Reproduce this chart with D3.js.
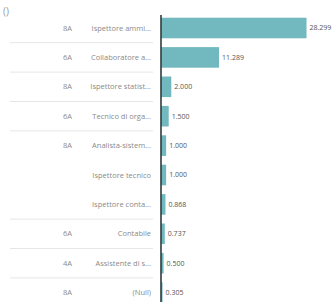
<!DOCTYPE html>
<html lang="en">
  <head>
    <meta charset="UTF-8" />
    <script src="https://d3js.org/d3.v7.min.js"></script>
    <style>
      body { margin: 0; background: #fff; }
      text { font-family: "Open Sans", "Liberation Sans", Arial, sans-serif; }
    </style>
  </head>
  <body>
    <div id="my_dataviz"></div>
    <script>
      // data
      var codes  = ["8A", "6A", "8A", "6A", "8A", "", "", "6A", "4A", "8A"]
      var names  = ["Ispettore ammi...", "Collaboratore a...", "Ispettore statist...", "Tecnico di orga...",
                    "Analista-sistem...", "Ispettore tecnico", "Ispettore conta...", "Contabile",
                    "Assistente di s...", "(Null)"]
      var values = [28.299, 11.289, 2.000, 1.500, 1.000, 1.000, 0.868, 0.737, 0.500, 0.305]
      var valueLabels = ["28.299", "11.289", "2.000", "1.500", "1.000", "1.000", "0.868", "0.737", "0.500", "0.305"]
      // rows after which a group separator is drawn
      var groupEnds = [0, 1, 2, 3, 6, 7, 8]

      var width = 332, height = 302

      var svg = d3.select("#my_dataviz")
        .append("svg")
          .attr("width", width)
          .attr("height", height)

      var idx = d3.range(values.length)

      var y = d3.scaleBand()
        .domain(idx)
        .range([13.3, 307.3])
        .paddingInner(0.3)
        .paddingOuter(0.15)

      var x = d3.scaleLinear()
        .domain([0, d3.max(values)])
        .range([161, 306.5])

      // title stub
      svg.append("text")
        .attr("x", 3).attr("y", 15)
        .style("font-size", "10px")
        .style("fill", "#9a9a9a")
        .text("()")

      // group separators
      svg.selectAll("sep")
        .data(groupEnds)
        .enter()
        .append("line")
          .attr("x1", 10).attr("x2", 153)
          .attr("y1", function(i){ return y(i) + y.bandwidth() / 2 + y.step() / 2 })
          .attr("y2", function(i){ return y(i) + y.bandwidth() / 2 + y.step() / 2 })
          .attr("stroke", "#e6e6e6")
          .attr("stroke-width", 1)

      // bars
      svg.selectAll("bars")
        .data(idx)
        .enter()
        .append("rect")
          .attr("x", x(0))
          .attr("y", function(i){ return y(i) })
          .attr("width", function(i){ return x(values[i]) - x(0) })
          .attr("height", y.bandwidth())
          .attr("fill", "#72b8bf")

      // axis line
      svg.append("line")
        .attr("x1", x(0)).attr("x2", x(0))
        .attr("y1", 15).attr("y2", height)
        .attr("stroke", "#2f3b3d")
        .attr("stroke-width", 1.6)

      // codes
      svg.selectAll("codes")
        .data(idx)
        .enter()
        .append("text")
          .attr("x", 63)
          .attr("y", function(i){ return y(i) + y.bandwidth() / 2 })
          .attr("dy", "0.35em")
          .style("font-size", "7.5px")
          .style("fill", "#8a8a8a")
          .text(function(i){ return codes[i] })

      // names
      svg.selectAll("names")
        .data(idx)
        .enter()
        .append("text")
          .attr("x", 151)
          .attr("y", function(i){ return y(i) + y.bandwidth() / 2 })
          .attr("dy", "0.35em")
          .style("text-anchor", "end")
          .style("font-size", "7.5px")
          .style("fill", "#8a8a8a")
          .text(function(i){ return names[i] })

      // value labels
      svg.selectAll("vals")
        .data(idx)
        .enter()
        .append("text")
          .attr("x", function(i){ return x(values[i]) + 3 })
          .attr("y", function(i){ return y(i) + y.bandwidth() / 2 })
          .attr("dy", "0.35em")
          .style("font-size", "7px")
          .style("fill", "#555")
          .text(function(i){ return valueLabels[i] })
    </script>
  </body>
</html>
